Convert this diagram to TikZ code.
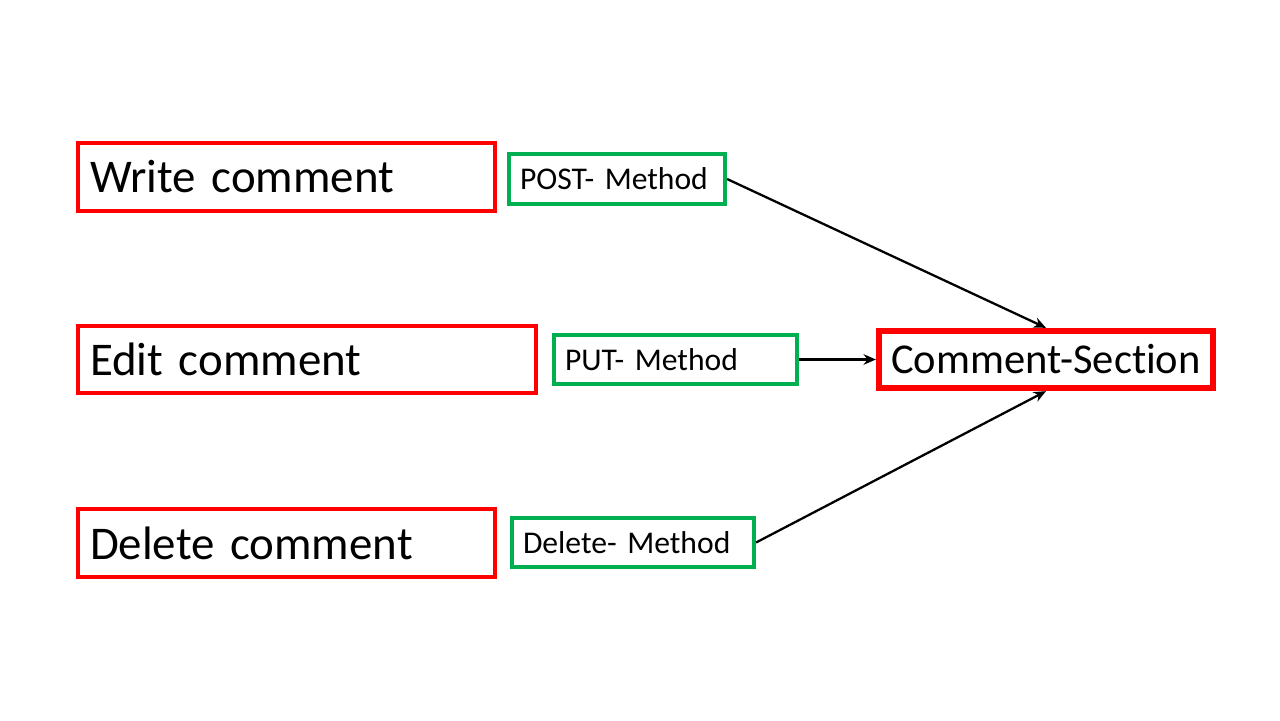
\documentclass[tikz,border=0pt]{standalone}
\usepackage{fontspec}
\setmainfont[Ligatures=NoCommon]{Carlito}
\usetikzlibrary{arrows.meta}
\definecolor{boxred}{RGB}{255,0,0}
\definecolor{boxgreen}{RGB}{0,176,80}
\tikzset{
  bigbox/.style={draw=boxred, line width=2.4pt, inner xsep=0.24cm, inner ysep=0pt, align=left, font=\fontsize{26.7}{30}\selectfont, minimum height=#1},
  methodbox/.style={draw=boxgreen, line width=2.4pt, inner xsep=0.22cm, inner ysep=0pt, align=left, font=\fontsize{18}{21}\selectfont, minimum height=#1},
  targetbox/.style={draw=boxred, line width=3.6pt, inner sep=0pt, font=\fontsize{24.2}{28}\selectfont, minimum height=1.14cm, minimum width=6.68cm},
  conn/.style={draw=black, line width=1.3pt, -{Stealth[length=7pt,width=6pt]}}
}
\begin{document}
\begin{tikzpicture}[x=0.02cm,y=-0.02cm]
\useasboundingbox (0,0) rectangle (1280,720);
\node[bigbox=1.36cm, text width=7.86cm] (write) at (286.5,177) {Write comment};
\node[bigbox=1.34cm, text width=8.68cm] (edit) at (307,359.5) {Edit comment};
\node[bigbox=1.36cm, text width=7.86cm] (delete) at (286.5,543) {Delete comment};
\node[methodbox=1.0cm, text width=3.88cm] (post) at (617,179) {POST- Method};
\node[methodbox=0.98cm, text width=4.42cm] (put) at (675.5,359.5) {PUT- Method};
\node[methodbox=0.98cm, text width=4.40cm] (delm) at (633,542.5) {Delete- Method};
\node[targetbox] (cs) at (1046,359.5) {Comment-Section};
\draw[conn] (post.east) -- (cs.north);
\draw[conn] (put.east) -- (cs.west);
\draw[conn] (delm.east) -- (cs.south);
\end{tikzpicture}
\end{document}
